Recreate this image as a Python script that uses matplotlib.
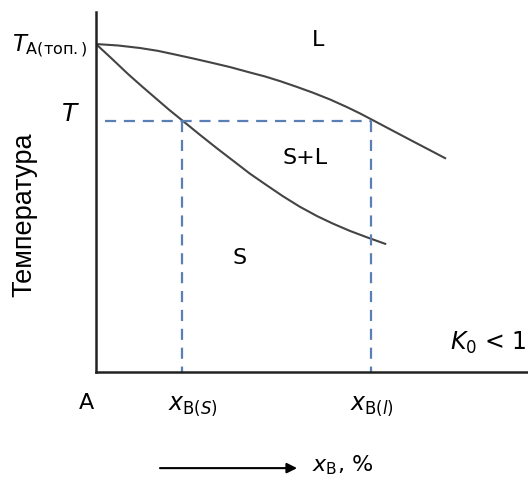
import numpy as np
import matplotlib
matplotlib.use('Agg')
import matplotlib.pyplot as plt

# fonts
plt.rcParams['font.family'] = ['DejaVu Sans']
plt.rcParams['mathtext.fontset'] = 'dejavusans'

# liquidus curve (composition %, temperature)
liq_x = [0, 5.1, 10.2, 14.4, 18.3, 22.5, 26.5, 31.1, 35.7, 39.2, 42.7,
         46.6, 50.3, 54.3, 58.2, 61.3, 64.0, 68.9, 73.5, 77.5, 81.0]
liq_t = [91.1, 90.7, 90.0, 89.2, 88.2, 87.1, 86.0, 84.7, 83.2, 82.1, 80.8,
         79.2, 77.6, 75.7, 73.6, 71.8, 70.1, 67.0, 64.1, 61.6, 59.4]

# solidus curve
sol_x = [0, 3.7, 7.4, 10.7, 13.7, 16.9, 20.2, 24.1, 28.1, 31.8, 35.7,
         39.7, 43.4, 47.3, 51.3, 55.0, 58.9, 62.9, 67.1]
sol_t = [91.1, 87.0, 82.8, 79.3, 76.2, 72.9, 69.7, 65.9, 62.1, 58.7, 55.1,
         51.8, 48.8, 45.9, 43.3, 41.2, 39.2, 37.4, 35.6]

# tie line at temperature T
T_level = 69.7
x_s = 20.0
x_l = 63.8
tie_start = 2.0

fig = plt.figure(figsize=(5.28, 4.78), dpi=100)
ax = fig.add_axes([96/528, 106/478, 431/528, 360/478])
ax.set_xlim(0, 100)
ax.set_ylim(0, 100)

curve_col = '#444444'
dash_col = '#5a7fb5'
ax.plot(liq_x, liq_t, color=curve_col, lw=1.5)
ax.plot(sol_x, sol_t, color=curve_col, lw=1.5)

dash = (0, (5, 3.5))
ax.plot([tie_start, x_l], [T_level, T_level], color=dash_col, lw=1.6, ls=dash)
ax.plot([x_s, x_s], [T_level, 0], color=dash_col, lw=1.6, ls=dash)
ax.plot([x_l, x_l], [T_level, 0], color=dash_col, lw=1.6, ls=dash)

for s in ['top', 'right']:
    ax.spines[s].set_visible(False)
for s in ['left', 'bottom']:
    ax.spines[s].set_linewidth(1.8)
    ax.spines[s].set_color('#222222')
ax.set_xticks([])
ax.set_yticks([])

fs = 16
ax.text(-1.8, 90.5, r'$T_{\mathrm{A(топ.)}}$', fontsize=16.5, ha='right', va='center', clip_on=False)
ax.text(-6.0, 71.7, r'$T$', fontsize=18, ha='center', va='center', clip_on=False)
ax.text(51.5, 92.2, 'L', fontsize=fs, ha='center', va='center')
ax.text(48.5, 59.4, 'S+L', fontsize=fs, ha='center', va='center')
ax.text(33.4, 31.7, 'S', fontsize=fs, ha='center', va='center')
ax.text(91, 8, r'$K_0$ < 1', fontsize=17, ha='center', va='center')
ax.text(-2.3, -8.6, 'A', fontsize=fs, ha='center', va='center', clip_on=False)
ax.text(22.5, -9.4, r'$x_{\mathrm{B(}S\mathrm{)}}$', fontsize=17, ha='center', va='center', clip_on=False)
ax.text(64, -9.4, r'$x_{\mathrm{B(}l\mathrm{)}}$', fontsize=17, ha='center', va='center', clip_on=False)
ax.text(-16.7, 43.6, 'Температура', fontsize=19.5, family=['Liberation Sans', 'DejaVu Sans'],
        rotation=90, ha='center', va='center', clip_on=False)

ax.annotate('', xy=(47.3, -26.7), xytext=(14.2, -26.7), annotation_clip=False,
            arrowprops=dict(arrowstyle='-|>', color='black', lw=1.5, mutation_scale=15))
ax.text(57.3, -25.8, r'$x_{\mathrm{B}}$, %', fontsize=fs, ha='center', va='center', clip_on=False)

plt.savefig('out.png', dpi=100)
